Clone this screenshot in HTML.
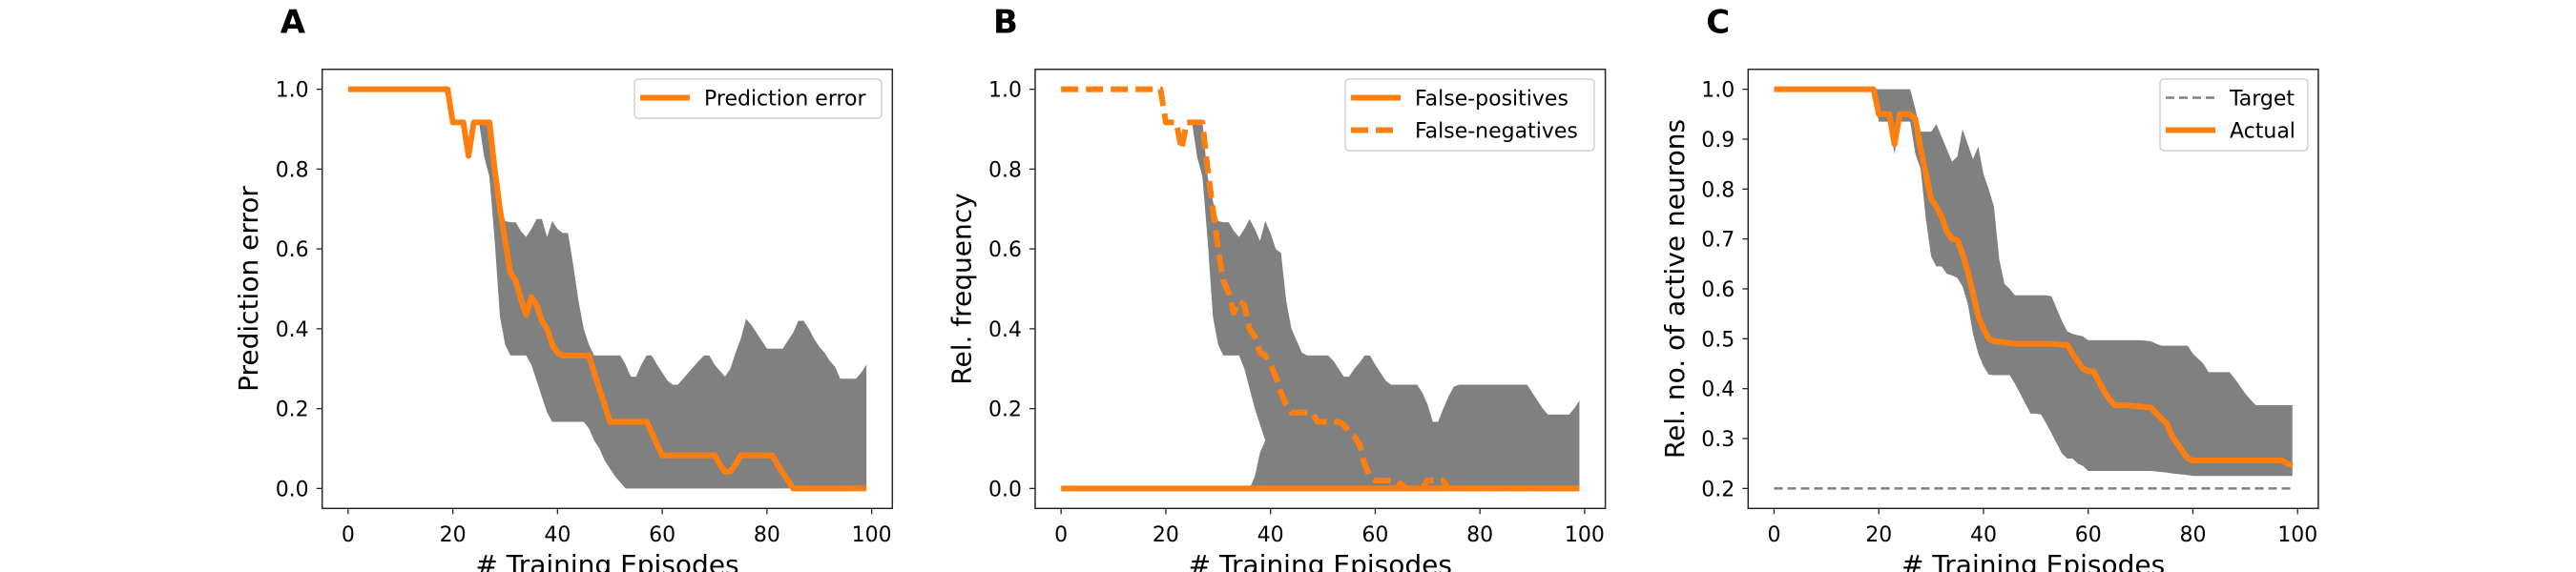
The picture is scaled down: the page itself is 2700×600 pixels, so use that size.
<!DOCTYPE html>
<html><head><meta charset="utf-8"><style>
html,body{margin:0;padding:0;background:#fff;}
svg{display:block;}
text{font-family:"DejaVu Sans","Liberation Sans",sans-serif;fill:#000;}
</style></head><body>
<svg id="chart" width="2700" height="600" viewBox="0 0 2700 600" xmlns="http://www.w3.org/2000/svg"></svg>
<script>
// ---- data ----
const episodes = Array.from({length:100},(_,i)=>i);
const meanA = [1,1,1,1,1,1,1,1,1,1,1,1,1,1,1,1,1,1,1,1,.917,.917,.917,.833,.917,.917,.917,.917,.8,.7,.62,.54,.52,.475,.435,.48,.46,.42,.4,.36,.34,.333,.333,.333,.333,.333,.333,.29,.25,.21,.167,.167,.167,.167,.167,.167,.167,.167,.14,.11,.083,.083,.083,.083,.083,.083,.083,.083,.083,.083,.083,.06,.042,.042,.06,.083,.083,.083,.083,.083,.083,.083,.06,.04,.02,0,0,0,0,0,0,0,0,0,0,0,0,0,0,0];
const upA = [1,1,1,1,1,1,1,1,1,1,1,1,1,1,1,1,1,1,1,1,.917,.917,.917,.833,.917,.917,.917,.917,.78,.72,.67,.667,.667,.645,.63,.65,.675,.675,.63,.67,.65,.64,.64,.56,.47,.4,.36,.333,.333,.333,.333,.333,.333,.31,.28,.28,.31,.333,.333,.31,.29,.27,.26,.26,.275,.29,.305,.32,.333,.333,.31,.295,.28,.3,.34,.375,.425,.41,.39,.37,.35,.35,.35,.35,.37,.39,.42,.42,.4,.375,.355,.34,.32,.305,.275,.275,.275,.275,.29,.31];
const loA = [1,1,1,1,1,1,1,1,1,1,1,1,1,1,1,1,1,1,1,1,.917,.917,.917,.833,.917,.917,.83,.78,.62,.43,.36,.333,.333,.333,.333,.31,.27,.23,.19,.167,.167,.167,.167,.167,.167,.167,.15,.12,.1,.07,.05,.03,.015,0,0,0,0,0,0,0,0,0,0,0,0,0,0,0,0,0,0,0,0,0,0,0,0,0,0,0,0,0,0,0,0,0,0,0,0,0,0,0,0,0,0,0,0,0,0,0];

const fnB = [1,1,1,1,1,1,1,1,1,1,1,1,1,1,1,1,1,1,1,1,.917,.917,.917,.85,.917,.917,.917,.917,.8,.7,.6,.52,.49,.44,.47,.46,.4,.38,.34,.333,.31,.28,.24,.21,.19,.19,.19,.19,.19,.167,.167,.167,.167,.167,.16,.14,.13,.11,.06,.03,.02,.02,.02,.02,.02,.01,0,0,0,0,.02,.02,.02,.02,0,0,0,0,0,0,0,0,0,0,0,0,0,0,0,0,0,0,0,0,0,0,0,0,0,0];
const fpB = [0,0,0,0,0,0,0,0,0,0,0,0,0,0,0,0,0,0,0,0,0,0,0,0,0,0,0,0,0,0,0,0,0,0,0,0,0,0,0,0,0,0,0,0,0,0,0,0,0,0,0,0,0,0,0,0,0,0,0,0,0,0,0,0,0,0,0,0,0,0,0,0,0,0,0,0,0,0,0,0,0,0,0,0,0,0,0,0,0,0,0,0,0,0,0,0,0,0,0,0];
const upB = [1,1,1,1,1,1,1,1,1,1,1,1,1,1,1,1,1,1,1,1,.917,.917,.917,.85,.917,.917,.917,.917,.78,.72,.67,.667,.667,.645,.63,.65,.675,.65,.62,.67,.64,.6,.59,.47,.4,.37,.34,.333,.333,.333,.333,.333,.32,.3,.28,.28,.3,.315,.333,.333,.31,.29,.27,.26,.26,.26,.26,.26,.26,.24,.21,.167,.167,.2,.23,.255,.26,.26,.26,.26,.26,.26,.26,.26,.26,.26,.26,.26,.26,.26,.24,.22,.2,.185,.185,.185,.185,.185,.2,.22];
const loB = [1,1,1,1,1,1,1,1,1,1,1,1,1,1,1,1,1,1,1,1,.917,.917,.917,.85,.917,.917,.83,.78,.62,.43,.36,.333,.333,.333,.333,.3,.25,.2,.16,.12,0,0,0,0,0,0,0,0,0,0,0,0,0,0,0,0,0,0,0,0,0,0,0,0,0,0,0,0,0,0,0,0,0,0,0,0,0,0,0,0,0,0,0,0,0,0,0,0,0,0,0,0,0,0,0,0,0,0,0,0];
const fpUpB = [0,0,0,0,0,0,0,0,0,0,0,0,0,0,0,0,0,0,0,0,0,0,0,0,0,0,0,0,0,0,0,0,0,0,0,0,0,.03,.09,.12,.12,0,0,0,0,0,0,0,0,0,0,0,0,0,0,0,0,0,0,0,0,0,0,0,0,0,0,0,0,0,0,0,0,0,0,0,0,0,0,0,0,0,0,0,0,0,0,0,0,0,0,0,0,0,0,0,0,0,0,0];

const meanC = [1,1,1,1,1,1,1,1,1,1,1,1,1,1,1,1,1,1,1,1,.95,.95,.95,.89,.95,.95,.95,.94,.88,.83,.78,.765,.745,.715,.7,.698,.67,.635,.59,.545,.52,.5,.495,.494,.493,.491,.49,.49,.49,.49,.49,.49,.49,.49,.489,.488,.488,.47,.455,.44,.435,.435,.415,.395,.38,.367,.367,.367,.366,.365,.364,.363,.362,.35,.34,.33,.305,.29,.275,.26,.256,.256,.256,.256,.256,.256,.256,.256,.256,.256,.256,.256,.256,.256,.256,.256,.256,.256,.25,.246];
const upC = [1,1,1,1,1,1,1,1,1,1,1,1,1,1,1,1,1,1,1,1,1,1,1,1,1,1,1,.96,.915,.915,.915,.93,.905,.88,.855,.865,.92,.89,.86,.885,.83,.8,.765,.66,.61,.6,.587,.587,.587,.587,.587,.587,.587,.585,.56,.535,.515,.51,.507,.505,.497,.497,.497,.497,.497,.497,.497,.497,.497,.497,.497,.496,.495,.49,.486,.486,.486,.486,.486,.486,.47,.46,.45,.433,.433,.433,.433,.433,.42,.405,.39,.378,.367,.367,.367,.367,.367,.367,.367,.367];
const loC = [1,1,1,1,1,1,1,1,1,1,1,1,1,1,1,1,1,1,1,1,.935,.935,.935,.87,.935,.935,.935,.87,.84,.74,.665,.645,.645,.63,.627,.622,.605,.57,.51,.47,.445,.428,.427,.427,.427,.427,.41,.39,.37,.35,.35,.348,.33,.31,.29,.27,.26,.26,.25,.245,.235,.235,.235,.235,.235,.235,.235,.235,.235,.235,.235,.235,.235,.234,.233,.232,.23,.229,.228,.227,.225,.225,.225,.225,.225,.225,.225,.225,.225,.225,.225,.225,.225,.225,.225,.225,.225,.225,.225,.225];
const target = 0.2;

const xTicks = [0,20,40,60,80,100];
const yTicksAB = [0,0.2,0.4,0.6,0.8,1.0];
const yTickLabelsAB = ["0.0","0.2","0.4","0.6","0.8","1.0"];
const yTicksC = [0.2,0.3,0.4,0.5,0.6,0.7,0.8,0.9,1.0];
const yTickLabelsC = ["0.2","0.3","0.4","0.5","0.6","0.7","0.8","0.9","1.0"];

// ---- drawing ----
const NS = "http://www.w3.org/2000/svg";
const svg = document.getElementById('chart');
const ORANGE = "#ff7f0e", GRAY = "#808080";
function mk(tag, attrs, parent){
  const e = document.createElementNS(NS, tag);
  for (const k in attrs) e.setAttribute(k, attrs[k]);
  (parent||svg).appendChild(e);
  return e;
}
const TOP = 72.7, BOT = 533.3, W = 597.6;
function makeAxes(left, ymin, ymax){
  const xs = v => left + (v + 4.95) * W / 108.9;
  const ys = v => BOT - (v - ymin) * (BOT - TOP) / (ymax - ymin);
  return {xs, ys, left};
}
function band(ax, up, lo, name, g){
  let d = "";
  episodes.forEach((e,i)=>{ d += (i?"L":"M") + ax.xs(e).toFixed(2) + "," + ax.ys(up[i]).toFixed(2); });
  for (let i = episodes.length-1; i >= 0; i--) d += "L" + ax.xs(episodes[i]).toFixed(2) + "," + ax.ys(lo[i]).toFixed(2);
  const p = mk('path', {d: d + "Z", fill: GRAY, stroke: "none"}, g);
  
  
}
function line(ax, vals, name, g, dash){
  const pts = episodes.map((e,i)=> ax.xs(e).toFixed(2) + "," + ax.ys(vals[i]).toFixed(2)).join(" ");
  const a = {points: pts, fill: "none", stroke: ORANGE, "stroke-width": 6, "stroke-linejoin": "round"};
  if (dash) a["stroke-dasharray"] = dash;
  const p = mk('polyline', a, g);
  
  
}
function frame(ax, g, yt, ytl, ylabel, letter, prefix){
  const L = ax.left;
  const r = mk('rect', {x: L, y: TOP, width: W, height: BOT - TOP, fill: "none", stroke: "#262626", "stroke-width": 1.5}, g);
  
  
  xTicks.forEach(t => {
    const x = ax.xs(t);
    mk('line', {x1: x, x2: x, y1: BOT, y2: BOT + 6, stroke: "#262626", "stroke-width": 1.3}, g);
    const tx = mk('text', {x: x, y: 568, "text-anchor": "middle", "font-size": 22}, g);
    tx.textContent = t;
    
    
  });
  yt.forEach((t,i) => {
    const y = ax.ys(t);
    mk('line', {x1: L - 6, x2: L, y1: y, y2: y, stroke: "#262626", "stroke-width": 1.3}, g);
    const tx = mk('text', {x: L - 14, y: y + 8, "text-anchor": "end", "font-size": 22}, g);
    tx.textContent = ytl[i];
    
    
  });
  const xl = mk('text', {x: L + W/2, y: 602, "text-anchor": "middle", "font-size": 28}, g);
  xl.textContent = "# Training Episodes";
  
  
  const cy = (TOP + BOT) / 2, cx = L - 77;
  const yl = mk('text', {x: cx, y: cy, "text-anchor": "middle", "dominant-baseline": "central", "font-size": 28, transform: `rotate(-90 ${cx} ${cy})`}, g);
  yl.textContent = ylabel;
  
  
  const lt = mk('text', {x: L - 44, y: 34.5, "font-size": 34, "font-weight": "bold"}, g);
  lt.textContent = letter;
  
  
}
function legend(g, x, y, w, entries, prefix){
  const h = 41 + (entries.length - 1) * 34;
  const lg = mk('g', {}, g);
  
  
  mk('rect', {x: x, y: y, width: w, height: h, rx: 4, fill: "#fff", "fill-opacity": 0.8, stroke: "#d0d0d0", "stroke-width": 1.5}, lg);
  entries.forEach((en, i) => {
    const ry = y + 19.5 + i * 34;
    const eg = mk('g', {}, lg);
    
    
    const a = {x1: x + 6, x2: x + 58, y1: ry, y2: ry, stroke: en.color, "stroke-width": en.width};
    if (en.dash) a["stroke-dasharray"] = en.dash;
    mk('line', a, eg);
    const t = mk('text', {x: x + 73, y: ry + 8, "font-size": 22}, eg);
    t.textContent = en.label;
  });
}

// Panel A
const gA = mk('g', {});  
const axA = makeAxes(337.7, -0.05, 1.05);
band(axA, upA, loA, 'error-band', gA);
line(axA, meanA, 'prediction-error-line', gA);
frame(axA, gA, yTicksAB, yTickLabelsAB, "Prediction error", "A", "a");
legend(gA, 665, 83, 259, [{label: "Prediction error", color: ORANGE, width: 6}], "a");

// Panel B
const gB = mk('g', {});  
const axB = makeAxes(1085, -0.05, 1.05);
band(axB, fpUpB, fpB, 'false-positives-band', gB);
band(axB, upB, loB, 'false-negatives-band', gB);
line(axB, fnB, 'false-negatives-line', gB, "18,8");
line(axB, fpB, 'false-positives-line', gB);
frame(axB, gB, yTicksAB, yTickLabelsAB, "Rel. frequency", "B", "b");
legend(gB, 1410, 83, 261, [{label: "False-positives", color: ORANGE, width: 6}, {label: "False-negatives", color: ORANGE, width: 6, dash: "18,8"}], "b");

// Panel C
const gC = mk('g', {});  
const axC = makeAxes(1832.3, 0.16, 1.04);
band(axC, upC, loC, 'active-neurons-band', gC);
const tl = mk('line', {x1: axC.xs(episodes[0]), x2: axC.xs(episodes[episodes.length-1]), y1: axC.ys(target), y2: axC.ys(target), stroke: GRAY, "stroke-width": 2.5, "stroke-dasharray": "9,5"}, gC);


line(axC, meanC, 'actual-line', gC);
frame(axC, gC, yTicksC, yTickLabelsC, "Rel. no. of active neurons", "C", "c");
legend(gC, 2264, 83, 155, [{label: "Target", color: GRAY, width: 2.5, dash: "9,5"}, {label: "Actual", color: ORANGE, width: 6}], "c");
</script>
</body></html>
